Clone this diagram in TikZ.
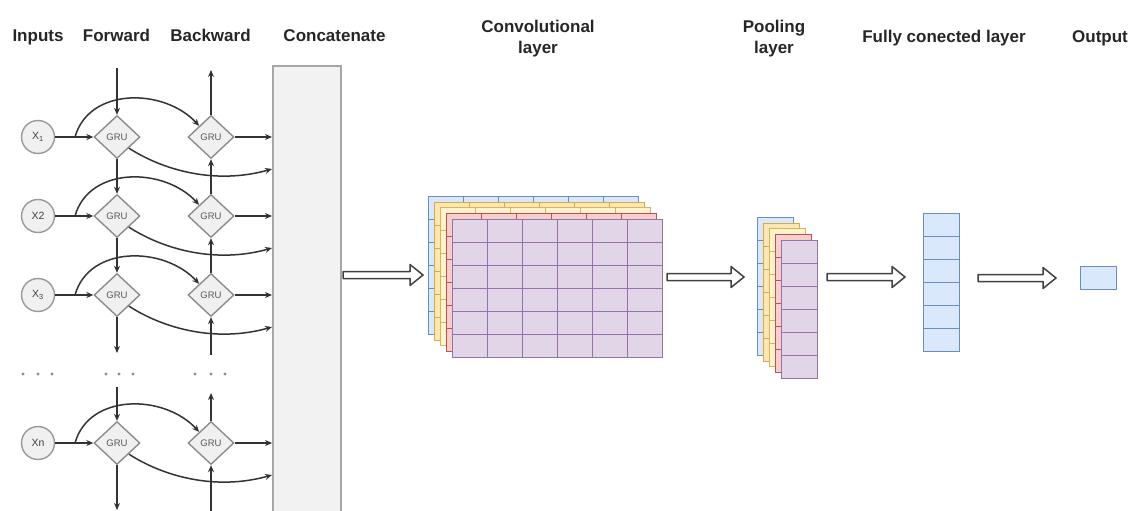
\documentclass[tikz,border=0pt]{standalone}
\usepackage{fontspec}
\setmainfont{Liberation Sans}
\usetikzlibrary{shapes.geometric,arrows.meta,calc}

\definecolor{bluefill}{HTML}{DAE8FC}   \definecolor{blueline}{HTML}{6C8EBF}
\definecolor{amberfill}{HTML}{FCE6B4}  \definecolor{amberline}{HTML}{D6A94E}
\definecolor{yellowfill}{HTML}{FFF2CC} \definecolor{yellowline}{HTML}{D6B656}
\definecolor{redfill}{HTML}{F8CECC}    \definecolor{redline}{HTML}{B85450}
\definecolor{purplefill}{HTML}{E1D5E7} \definecolor{purpleline}{HTML}{9673A6}
\definecolor{wirecol}{HTML}{333333}

% one feature map of the convolutional stack: 6 x 6 cells
\newcommand{\convmap}[4]{%
  \node[layer=#4, minimum width=210pt, minimum height=138pt] (#1) at (#2,#3) {};
  \foreach \i in {1,...,5} {
    \draw[cellline=#4] ($(#1.north west)+(\i*35,0)$) -- ($(#1.south west)+(\i*35,0)$);
    \draw[cellline=#4] ($(#1.north west)+(0,\i*23)$) -- ($(#1.north east)+(0,\i*23)$);
  }
}
% one column of 6 cells (pooling maps, dense layer)
\newcommand{\colmap}[4]{%
  \node[layer=#4, minimum width=36pt, minimum height=138pt] (#1) at (#2,#3) {};
  \foreach \i in {1,...,5} {
    \draw[cellline=#4] ($(#1.north west)+(0,\i*23)$) -- ($(#1.north east)+(0,\i*23)$);
  }
}
% wide hollow arrow between two points
\newcommand{\hollow}[2]{%
  \draw[flexarr] let \p1=(#1), \p2=(#2) in
    (\x1,\y1+3.5pt) -- (\x2-13pt,\y1+3.5pt) -- (\x2-13pt,\y1+10.5pt) -- (\x2,\y1)
    -- (\x2-13pt,\y1-10.5pt) -- (\x2-13pt,\y1-3.5pt) -- (\x1,\y1-3.5pt) -- cycle;
}

\begin{document}
\begin{tikzpicture}[x=1pt,y=-1pt,
  hdr/.style={font=\fontsize{17}{21}\selectfont\bfseries, text=black!85, inner sep=0pt, align=center},
  inp/.style={circle, draw=black!40, fill=black!6, line width=1.4pt, minimum size=33pt,
              inner sep=0pt, font=\fontsize{10.5}{12}\selectfont, text=black!75},
  gru/.style={diamond, draw=black!45, fill=black!6, line width=1.4pt, minimum width=46pt,
              minimum height=43pt, inner sep=0pt, font=\fontsize{9.5}{11}\selectfont, text=black!65},
  arr/.style={draw=wirecol, line width=1.5pt, -{Stealth[length=7pt,width=6pt]}},
  layer/.style={draw=#1line, fill=#1fill, line width=1.4pt, inner sep=0pt, outer sep=0pt, anchor=north west},
  cellline/.style={draw=#1line, line width=1.4pt},
  flexarr/.style={draw=black!75, fill=white, line width=1.5pt, line join=round},
  dotmark/.style={fill=black!45, draw=none}
]
\useasboundingbox (0,0) rectangle (1133,511);

% column headers
\node[hdr, anchor=base] (hin)  at (38,42)  {Inputs};
\node[hdr, anchor=base] (hfw)  at (116.5,42) {Forward};
\node[hdr, anchor=base] (hbw)  at (210.5,42) {Backward};
\node[hdr, anchor=base] (hcat) at (334.5,42) {Concatenate};
\node[hdr, anchor=north] (hconv) at (538,19.5) {Convolutional\\layer};
\node[hdr, anchor=north] (hpool) at (774,19.5) {Pooling\\layer};
\node[hdr, anchor=base] (hfc)  at (944,43) {Fully conected layer};
\node[hdr, anchor=base] (hout) at (1100,43) {Output};

% concatenation bar
\node[draw=black!35, fill=black!5, line width=1.6pt, minimum width=68pt, minimum height=470pt,
      anchor=north west, inner sep=0pt] (cat) at (272,65) {};

% bidirectional GRU rows
\foreach \r/\y/\lab in {1/137/{X\textsubscript{1}}, 2/216/{X2}, 3/295/{X\textsubscript{3}}, n/443/{Xn}} {
  \node[inp] (x\r) at (38,\y) {\lab};
  \node[gru] (f\r) at (117,\y) {GRU};
  \node[gru] (b\r) at (211,\y) {GRU};
  \coordinate (s\r) at ($(x\r.east)!0.52!(f\r.west)$);
  \draw[arr] (x\r) -- (f\r);
  \draw[arr] (s\r) .. controls +(14,-50) and +(-35,-38) .. (b\r.north west);
  \draw[arr] (b\r) -- (b\r -| cat.west);
  \draw[arr] (f\r.south east) .. controls +(34,22) and +(-57,16) .. ($(cat.west |- b\r)+(0,32)$);
}

% recurrent chains
\coordinate (ftop) at (117,68);
\coordinate (btop) at (211,70);
\coordinate (fgapT) at (117,353);
\coordinate (fgapB) at (117,387);
\coordinate (bgapT) at (211,355);
\coordinate (bgapB) at (211,393);
\coordinate (fbot) at (117,510);
\coordinate (bbot) at (211,512);
\draw[arr] (ftop) -- (f1);
\draw[arr] (f1) -- (f2);
\draw[arr] (f2) -- (f3);
\draw[arr] (f3) -- (fgapT);
\draw[arr] (fgapB) -- (fn);
\draw[arr] (fn) -- (fbot);
\draw[arr] (b1) -- (btop);
\draw[arr] (b2) -- (b1);
\draw[arr] (b3) -- (b2);
\draw[arr] (bgapT) -- (b3);
\draw[arr] (bn) -- (bgapB);
\draw[arr] (bbot) -- (bn);

% ellipsis marks
\foreach \x in {23,38,52,106,119,133,195,211,225}
  \fill[dotmark] (\x,374) circle (1.7);

% convolutional feature maps
\convmap{cv1}{428.5}{196.5}{blue}
\convmap{cv2}{434.5}{202.5}{amber}
\convmap{cv3}{440.5}{207.5}{yellow}
\convmap{cv4}{446.5}{213.5}{red}
\convmap{cv5}{452.5}{219.5}{purple}

% pooling maps
\colmap{pl1}{757.5}{217.5}{blue}
\colmap{pl2}{763.5}{223.5}{amber}
\colmap{pl3}{769.5}{228.5}{yellow}
\colmap{pl4}{775.5}{234.5}{red}
\colmap{pl5}{781.5}{240.5}{purple}

% dense layer and output
\colmap{fc}{923.5}{213.5}{blue}
\node[layer=blue, minimum width=36pt, minimum height=23pt] (out) at (1080.5,266.5) {};

% hollow arrows between stages
\coordinate (h1s) at (343,275);  \coordinate (h1e) at (423,275);
\coordinate (h2s) at (667,277);  \coordinate (h2e) at (744,277);
\coordinate (h3s) at (827,277);  \coordinate (h3e) at (905,277);
\coordinate (h4s) at (978,278);  \coordinate (h4e) at (1056,278);
\hollow{h1s}{h1e}
\hollow{h2s}{h2e}
\hollow{h3s}{h3e}
\hollow{h4s}{h4e}
\end{tikzpicture}
\end{document}
